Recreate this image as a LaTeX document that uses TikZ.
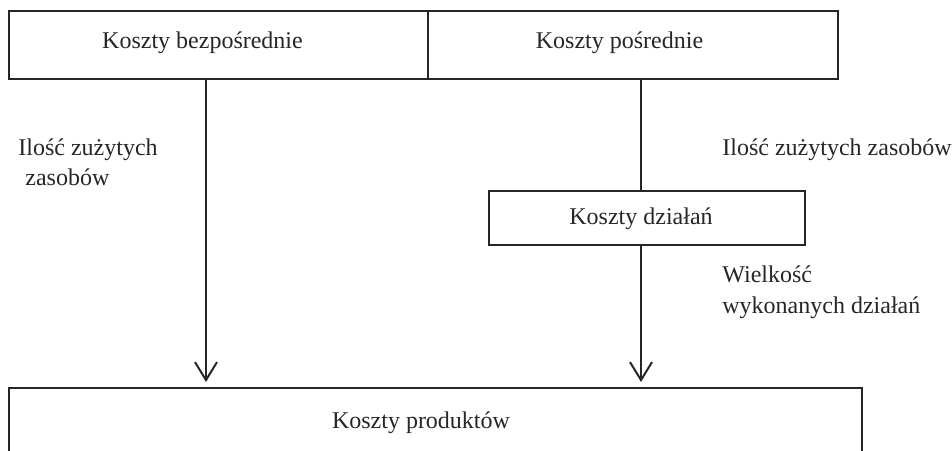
\documentclass[tikz,border=0pt]{standalone}
\usepackage{fontspec}
\setmainfont{Liberation Serif}
\usetikzlibrary{arrows.meta}
\begin{document}
\begin{tikzpicture}[x=0.5pt,y=-0.5pt,
  box/.style={draw=black!85,line width=1pt,inner sep=0pt,anchor=north west},
  txt/.style={inner sep=0pt,font=\fontsize{12}{14}\selectfont,text=black!85},
  conn/.style={draw=black!85,line width=1.1pt},
  arr/.style={conn,-{Straight Barb[length=9pt,width=11pt,line width=1pt]}}]
\useasboundingbox (0,0) rectangle (952,450);
\clip (0,0) rectangle (952,450);
% boxes
\node[box,minimum width=209.5pt,minimum height=34pt] (kb) at (8,10) {};
\node[box,minimum width=205pt,minimum height=34pt] (kp) at (427,10) {};
\node[box,minimum width=158pt,minimum height=27pt] (kd) at (488,190) {};
\node[box,minimum width=426.5pt,minimum height=60pt] (kpr) at (8,387) {};
% texts
\node[txt,anchor=base] (tkb) at (202.5,48) {Koszty bezpośrednie};
\node[txt,anchor=base] (tkp) at (619.5,48) {Koszty pośrednie};
\node[txt,anchor=base] (tkd) at (641,224) {Koszty działań};
\node[txt,anchor=base] (tkpr) at (421,428) {Koszty produktów};
\node[txt,anchor=base west] (l1a) at (18,155) {Ilość zużytych};
\node[txt,anchor=base west] (l1b) at (25,185) {zasobów};
\node[txt,anchor=base west] (l2) at (722,155) {Ilość zużytych zasobów};
\node[txt,anchor=base west] (l3a) at (722,282) {Wielkość};
\node[txt,anchor=base west] (l3b) at (722,313) {wykonanych działań};
% connectors
\coordinate (xa) at (206,0);
\coordinate (xb) at (641,0);
\coordinate (ea) at (206,382);
\coordinate (eb) at (641,382);
\draw[arr] (kb.south -| xa) -- (ea);
\draw[conn] (kp.south -| xb) -- (kd.north -| xb);
\draw[arr] (kd.south -| xb) -- (eb);
\end{tikzpicture}
\end{document}
